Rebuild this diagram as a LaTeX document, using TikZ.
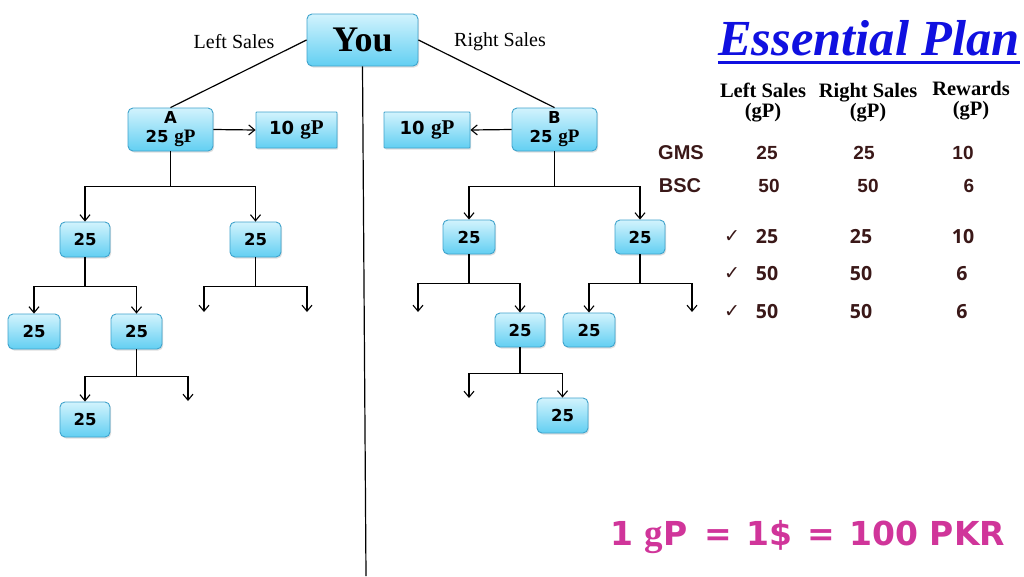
\documentclass[tikz,border=0pt]{standalone}
\usepackage{fontspec}
\setmainfont{Liberation Serif}
\newfontfamily\osans{Open Sans}
\newfontfamily\arialf{Liberation Sans}
\newfontfamily\djv{DejaVu Sans}
\usetikzlibrary{arrows.meta,shadows}
\definecolor{boxtop}{HTML}{D2F3FD}
\definecolor{boxbot}{HTML}{62CFF2}
\definecolor{boxline}{HTML}{3FA3CC}
\definecolor{tabtxt}{HTML}{3A1818}
\definecolor{epblue}{HTML}{1010E0}
\definecolor{pinkk}{HTML}{D0359A}
\newcommand{\gp}{{\rmfamily\bfseries gP}}
\tikzset{
  bluebox/.style={draw=boxline, line width=0.9pt, rounded corners=5pt, top color=boxtop, bottom color=boxbot,
    drop shadow={opacity=0.25, shadow xshift=1.2pt, shadow yshift=-1.5pt},
    inner sep=0pt, align=center, font=\djv\bfseries\fontsize{16.5}{18}\selectfont, text=black},
  sqbox/.style={bluebox, rounded corners=0.8pt},
  arr/.style={line width=1.2pt, -{Straight Barb[length=6pt,width=10pt,line width=1.1pt]}},
  ln/.style={line width=1.2pt},
  lab/.style={font=\fontsize{20}{22}\selectfont, inner sep=0pt},
  hdr/.style={font=\bfseries\fontsize{20.5}{23}\selectfont, inner sep=0pt, align=center},
  rowlab/.style={font=\arialf\bfseries\fontsize{20}{22}\selectfont, text=tabtxt, inner sep=0pt},
  valA/.style={font=\arialf\bfseries\fontsize{19}{21}\selectfont, text=tabtxt, inner sep=0pt},
  valB/.style={font=\osans\bfseries\fontsize{19.5}{21}\selectfont, text=tabtxt, inner sep=0pt},
  chk/.style={font=\djv\bfseries\fontsize{19}{20}\selectfont, text=tabtxt, inner sep=0pt}
}
\begin{document}
\begin{tikzpicture}[x=1pt,y=-1pt]
\useasboundingbox (0,0) rectangle (1024,576);
\fill[white] (0,0) rectangle (1024,576);

% top node
\node[bluebox, minimum width=111pt, minimum height=52pt, font=\rmfamily\bfseries\fontsize{36}{40}\selectfont] (you) at (362.5,40) {You};
\node[lab] (ls) at (234,42) {Left Sales};
\node[lab] (rs) at (500,42) {Right Sales};

% level 1
\node[bluebox, minimum width=85pt, minimum height=43pt, font=\djv\bfseries\fontsize{16.5}{17}\selectfont] (A) at (170.5,129.5) {A\\[2pt]25 {\fontsize{19}{17}\selectfont\gp}};
\node[bluebox, minimum width=85pt, minimum height=43pt, font=\djv\bfseries\fontsize{16.5}{17}\selectfont] (B) at (554.5,129.5) {B\\[2pt]25 {\fontsize{19}{17}\selectfont\gp}};
\node[sqbox, minimum width=81pt, minimum height=36pt, font=\djv\bfseries\fontsize{18}{19}\selectfont] (gA) at (296.5,130) {10 {\fontsize{21}{19}\selectfont\gp}};
\node[sqbox, minimum width=86pt, minimum height=36pt, font=\djv\bfseries\fontsize{18}{19}\selectfont] (gB) at (427,130) {10 {\fontsize{21}{19}\selectfont\gp}};

\coordinate (vbot) at (366,576);
\draw[ln] (you.west) -- (A.north);
\draw[ln] (you.east) -- (B.north);
\draw[ln] (you.south) -- (vbot);
\draw[arr] (A.east) -- (gA.west);
\draw[arr] (B.west) -- (gB.east);

% left subtree
\node[bluebox, minimum width=50pt, minimum height=35pt] (L1) at (85,239.5) {25};
\node[bluebox, minimum width=51pt, minimum height=35pt] (L2) at (255.5,239.5) {25};
\node[bluebox, minimum width=52pt, minimum height=35pt] (L1a) at (34,331.5) {25};
\node[bluebox, minimum width=51pt, minimum height=35pt] (L1b) at (136.5,331.5) {25};
\node[bluebox, minimum width=50pt, minimum height=35pt] (L1b1) at (85,419.5) {25};
\coordinate (L2l) at (204,312);
\coordinate (L2r) at (307,312);
\coordinate (L1br) at (188,401);

\draw[arr] (A.south) -- ++(0,35) -| (L1.north);
\draw[arr] (A.south) -- ++(0,35) -| (L2.north);
\draw[arr] (L1.south) -- ++(0,29) -| (L1a.north);
\draw[arr] (L1.south) -- ++(0,29) -| (L1b.north);
\draw[arr] (L2.south) -- ++(0,29) -| (L2l);
\draw[arr] (L2.south) -- ++(0,29) -| (L2r);
\draw[arr] (L1b.south) -- ++(0,27) -| (L1b1.north);
\draw[arr] (L1b.south) -- ++(0,27) -| (L1br);

% right subtree
\node[bluebox, minimum width=52pt, minimum height=34pt] (R1) at (469,237) {25};
\node[bluebox, minimum width=50pt, minimum height=34pt] (R2) at (640,237) {25};
\node[bluebox, minimum width=50pt, minimum height=34pt] (R1b) at (520,330) {25};
\node[bluebox, minimum width=52pt, minimum height=34pt] (R2a) at (589,330) {25};
\node[bluebox, minimum width=51pt, minimum height=35pt] (R1b1) at (562.5,415.5) {25};
\coordinate (R1l) at (418,312);
\coordinate (R2r) at (692,312);
\coordinate (R1bl) at (469,398);

\draw[arr] (B.south) -- ++(0,35) -| (R1.north);
\draw[arr] (B.south) -- ++(0,35) -| (R2.north);
\draw[arr] (R1.south) -- ++(0,29) -| (R1l);
\draw[arr] (R1.south) -- ++(0,29) -| (R1b.north);
\draw[arr] (R2.south) -- ++(0,29) -| (R2a.north);
\draw[arr] (R2.south) -- ++(0,29) -| (R2r);
\draw[arr] (R1b.south) -- ++(0,26) -| (R1bl);
\draw[arr] (R1b.south) -- ++(0,26) -| (R1b1.north);

% title
\node[anchor=base west, inner sep=0pt, text=epblue, font=\bfseries\itshape\fontsize{50.5}{54}\selectfont] (ep) at (718,55) {Essential Plan};
\draw[epblue, line width=3pt] ([yshift=-7pt]ep.base west) -- ([yshift=-7pt]ep.base east);

% table headers
\node[hdr] (h1) at (763,103) {Left Sales\\[-3pt](gP)};
\node[hdr] (h2) at (868,103) {Right Sales\\[-3pt](gP)};
\node[hdr] (h3) at (971,101) {Rewards\\[-3pt](gP)};

\node[rowlab] (gms) at (681,153) {GMS};
\node[rowlab] (bsc) at (680,186) {BSC};
\node[valA] at (767,153) {25};
\node[valA] at (864,153) {25};
\node[valA] at (963,153) {10};
\node[valA] at (769,186) {50};
\node[valA] at (868,186) {50};
\node[valA] at (969,186) {6};

\node[chk] at (732,237) {✓};
\node[chk] at (732,274) {✓};
\node[chk] at (732,312) {✓};
\node[valB] at (767,237) {25};
\node[valB] at (861,237) {25};
\node[valB] at (963,237) {10};
\node[valB] at (767,274) {50};
\node[valB] at (861,274) {50};
\node[valB] at (962,274) {6};
\node[valB] at (767,312) {50};
\node[valB] at (861,312) {50};
\node[valB] at (962,312) {6};

% formula
\node[anchor=west, inner sep=0pt, text=pinkk, font=\djv\bfseries\fontsize{33}{36}\selectfont] (fx) at (610,537) {1 {\rmfamily\bfseries\fontsize{37}{36}\selectfont g}P\hspace{6pt} = \hspace{3pt}1\$ \hspace{3pt}= \hspace{3pt}100 PKR};
\end{tikzpicture}
\end{document}
